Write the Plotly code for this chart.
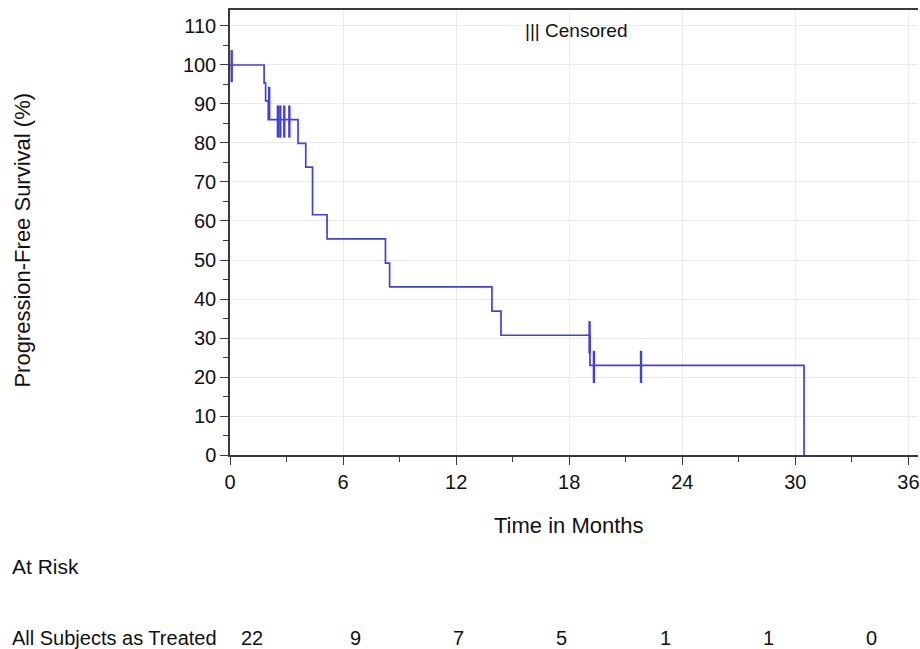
import plotly.graph_objects as go

# Kaplan-Meier step curve: event times (months) and survival (%)
step_months = [0, 1.81, 1.89, 2.03, 3.61, 4.02, 4.38, 5.15, 8.25, 8.47, 13.90, 14.38, 19.10, 30.46]
step_surv = [100, 95.4, 90.8, 86.0, 79.9, 73.8, 61.6, 55.4, 49.2, 43.1, 36.9, 30.7, 23.0, 0]

# Censored observations
cens_months = [0.09, 2.08, 2.54, 2.67, 2.88, 3.15, 19.08, 19.31, 21.81]
cens_surv = [99.7, 90.3, 85.5, 85.5, 85.5, 85.5, 30.2, 22.6, 22.6]

# Number at risk table
risk_months = [0, 6, 12, 18, 24, 30, 36]
risk_counts = [22, 9, 7, 5, 1, 1, 0]
risk_group = "All Subjects as Treated"

BLUE = "#4040e0"
FONT = "Liberation Sans, Arial, sans-serif"
TXT = "#111111"

W, H = 920, 649
ML, MR, MT, MB = 230, 0, 10, 194
PW, PH = W - ML - MR, H - MT - MB


def px_x(p):
    return (p - ML) / PW


def px_y(p):
    return (H - MB - p) / PH


fig = go.Figure()
fig.add_trace(go.Scatter(
    x=step_months, y=step_surv, mode="lines",
    line=dict(shape="hv", color=BLUE, width=1.7),
    hoverinfo="skip", showlegend=False,
))
fig.add_trace(go.Scatter(
    x=cens_months, y=cens_surv, mode="markers",
    marker=dict(symbol="line-ns", size=23, line=dict(color=BLUE, width=2.4)),
    cliponaxis=False, showlegend=False,
))

axis_common = dict(
    showline=True, linecolor="#3a3a3a", linewidth=1.5,
    ticks="outside", ticklen=8, tickwidth=1.3, tickcolor="#3a3a3a",
    showgrid=True, gridcolor="#ebebeb", gridwidth=1,
    zeroline=False,
    tickfont=dict(family=FONT, size=20, color=TXT),
)

fig.update_xaxes(
    range=[0, PW / 18.9], tick0=0, dtick=6,
    minor=dict(dtick=3, ticks="outside", ticklen=5, tickcolor="#3a3a3a", showgrid=False),
    mirror=True, ticklabeloverflow="allow",
    **axis_common,
)
fig.update_yaxes(
    range=[0, 114.1], tick0=0, dtick=10,
    minor=dict(dtick=5, ticks="outside", ticklen=5, tickcolor="#3a3a3a", showgrid=False),
    **axis_common,
)


def label(text, x, y, size, xanchor="center", angle=0):
    return dict(text=text, x=px_x(x), y=px_y(y), xref="paper", yref="paper",
                xanchor=xanchor, yanchor="middle", textangle=angle,
                showarrow=False, font=dict(family=FONT, size=size, color=TXT))


annotations = [
    label("||| Censored", 577, 31, 19),
    label("Time in Months", 570, 525, 22),
    label("Progression-Free Survival (%)", 22, 240, 22, angle=-90),
    label("At Risk", 9, 566, 21, xanchor="left"),
    label(risk_group, 9, 638, 20, xanchor="left"),
]
for i, (t, n) in enumerate(zip(risk_months, risk_counts)):
    annotations.append(label(str(n), 252.3 + i * 103.5, 638, 20))

fig.update_layout(
    width=W, height=H,
    margin=dict(l=ML, r=MR, t=MT, b=MB, pad=0),
    paper_bgcolor="white", plot_bgcolor="white",
    annotations=annotations,
    showlegend=False,
)

fig.write_html("out.html")
